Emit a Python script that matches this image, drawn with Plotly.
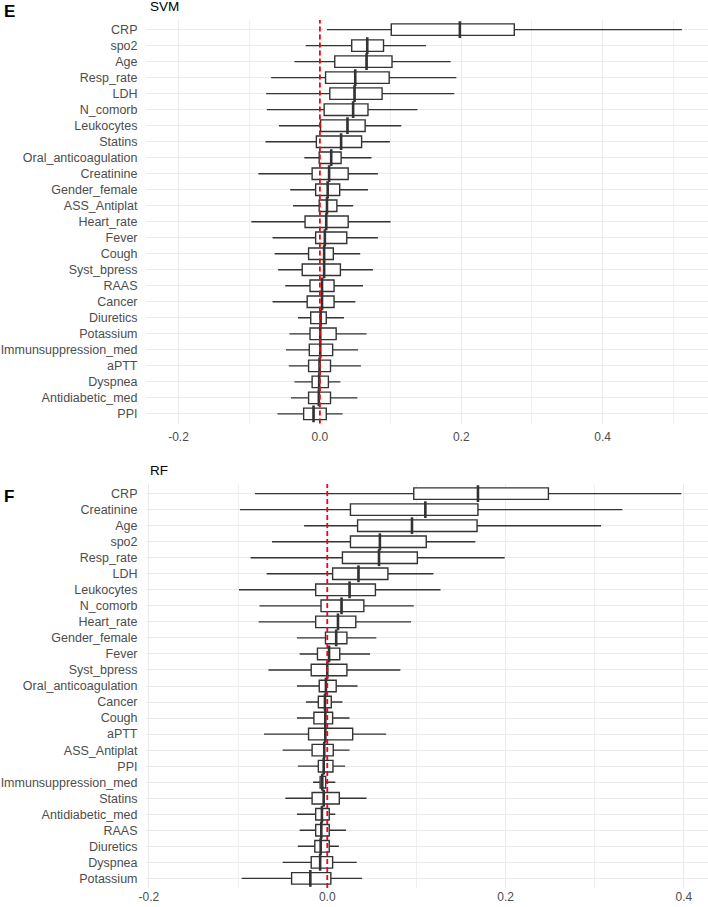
import plotly.graph_objects as go

# ---------------- SVM (panel E) ----------------
svm_features = ["CRP", "spo2", "Age", "Resp_rate", "LDH", "N_comorb", "Leukocytes", "Statins",
                "Oral_anticoagulation", "Creatinine", "Gender_female", "ASS_Antiplat", "Heart_rate",
                "Fever", "Cough", "Syst_bpress", "RAAS", "Cancer", "Diuretics", "Potassium",
                "Immunsuppression_med", "aPTT", "Dyspnea", "Antidiabetic_med", "PPI"]
svm_low = [0.010, -0.020, -0.036, -0.069, -0.076, -0.075, -0.058, -0.077, -0.022, -0.087, -0.042,
           -0.038, -0.097, -0.067, -0.064, -0.059, -0.049, -0.067, -0.031, -0.043, -0.048, -0.044,
           -0.036, -0.041, -0.060]
svm_q1 = [0.101, 0.045, 0.021, 0.008, 0.014, 0.006, 0.001, -0.005, -0.001, -0.011, -0.006, -0.001,
          -0.021, -0.006, -0.016, -0.025, -0.014, -0.018, -0.013, -0.014, -0.015, -0.016, -0.011,
          -0.016, -0.023]
svm_med = [0.198, 0.067, 0.066, 0.050, 0.049, 0.047, 0.039, 0.030, 0.016, 0.013, 0.011, 0.010,
           0.009, 0.007, 0.006, 0.006, 0.003, 0.003, 0.001, 0.0005, 0.0005, -0.0005, -0.001,
           -0.0015, -0.009]
svm_q3 = [0.275, 0.090, 0.102, 0.098, 0.088, 0.068, 0.064, 0.059, 0.030, 0.040, 0.028, 0.024,
          0.040, 0.038, 0.019, 0.029, 0.020, 0.020, 0.009, 0.023, 0.018, 0.015, 0.012, 0.015,
          0.009]
svm_high = [0.512, 0.150, 0.185, 0.193, 0.190, 0.138, 0.115, 0.099, 0.073, 0.082, 0.068, 0.047,
            0.100, 0.082, 0.057, 0.075, 0.061, 0.050, 0.034, 0.066, 0.054, 0.058, 0.029, 0.053,
            0.032]

# ---------------- RF (panel F) ----------------
rf_features = ["CRP", "Creatinine", "Age", "spo2", "Resp_rate", "LDH", "Leukocytes", "N_comorb",
               "Heart_rate", "Gender_female", "Fever", "Syst_bpress", "Oral_anticoagulation",
               "Cancer", "Cough", "aPTT", "ASS_Antiplat", "PPI", "Immunsuppression_med", "Statins",
               "Antidiabetic_med", "RAAS", "Diuretics", "Dyspnea", "Potassium"]
rf_low = [-0.081, -0.098, -0.026, -0.062, -0.086, -0.068, -0.099, -0.076, -0.077, -0.034, -0.031,
          -0.066, -0.034, -0.024, -0.034, -0.071, -0.050, -0.033, -0.016, -0.047, -0.034, -0.031,
          -0.033, -0.050, -0.096]
rf_q1 = [0.097, 0.026, 0.034, 0.026, 0.017, 0.006, -0.013, -0.007, -0.013, -0.002, -0.011, -0.018,
         -0.009, -0.010, -0.015, -0.021, -0.017, -0.010, -0.008, -0.017, -0.013, -0.013, -0.014,
         -0.018, -0.040]
rf_med = [0.169, 0.110, 0.095, 0.059, 0.058, 0.035, 0.025, 0.016, 0.012, 0.010, 0.002, 0.000,
          -0.0015, -0.0026, -0.0022, -0.0022, -0.0034, -0.004, -0.0056, -0.004, -0.006, -0.0067,
          -0.0074, -0.008, -0.019]
rf_q3 = [0.248, 0.169, 0.168, 0.111, 0.101, 0.068, 0.054, 0.041, 0.032, 0.022, 0.014, 0.022,
         0.010, 0.0045, 0.006, 0.0285, 0.0067, 0.0064, -0.0018, 0.0135, 0.0022, 0.0022, 0.0022,
         0.006, 0.004]
rf_high = [0.397, 0.331, 0.307, 0.166, 0.199, 0.119, 0.127, 0.097, 0.094, 0.055, 0.048, 0.082,
           0.034, 0.017, 0.025, 0.066, 0.025, 0.020, 0.009, 0.044, 0.009, 0.021, 0.013, 0.033,
           0.039]

x_ticks = [-0.2, 0.0, 0.2, 0.4]
x_ticklabels = ["-0.2", "0.0", "0.2", "0.4"]

FONT = "Liberation Sans, Arial, sans-serif"
LINE = "#333333"
fig = go.Figure()

panels = [
    (svm_features, svm_low, svm_q1, svm_med, svm_q3, svm_high, "x", "y"),
    (rf_features, rf_low, rf_q1, rf_med, rf_q3, rf_high, "x2", "y2"),
]
for feats, lo, q1, md, q3, hi, xa, ya in panels:
    fig.add_trace(go.Box(
        y=feats, q1=q1, median=md, q3=q3, lowerfence=lo, upperfence=hi,
        orientation="h", xaxis=xa, yaxis=ya, boxpoints=False,
        fillcolor="white", line=dict(color=LINE, width=1.4),
        whiskerwidth=0, width=0.72, showlegend=False, hoverinfo="skip"))
    fig.add_trace(go.Scatter(
        x=md, y=feats, mode="markers", xaxis=xa, yaxis=ya,
        marker=dict(symbol="line-ns", size=12, line=dict(color=LINE, width=2.6)),
        showlegend=False, hoverinfo="skip"))
    fig.add_shape(type="line", x0=0, x1=0, y0=0, y1=1, xref=xa, yref=ya + " domain",
                  line=dict(color="#FF0000", width=1.8, dash="5px,3px"), layer="above")

def xaxis_cfg(rng, anchor, domain, ticklen):
    return dict(range=rng, domain=domain, anchor=anchor, tickvals=x_ticks, ticktext=x_ticklabels,
                showgrid=True, gridcolor="#EBEBEB", gridwidth=1.1, zeroline=False,
                ticks="outside" if ticklen > 0 else "", ticklen=max(ticklen, 1),
                tickcolor="rgba(0,0,0,0)",
                tickfont=dict(family=FONT, size=12, color="#4D4D4D"),
                minor=dict(tickvals=[-0.1, 0.1, 0.3, 0.5], showgrid=True, gridcolor="#F0F0F0",
                           gridwidth=0.6),
                showline=False, automargin=False, fixedrange=True)

def yaxis_cfg(feats, anchor, domain):
    n = len(feats)
    return dict(type="category", categoryorder="array", categoryarray=feats,
                range=[n - 1 + 0.6, -0.6], domain=domain, anchor=anchor,
                showgrid=True, gridcolor="#EBEBEB", gridwidth=1.1, zeroline=False,
                ticks="outside", ticklen=5, tickcolor="rgba(0,0,0,0)",
                tickfont=dict(family=FONT, size=12.5, color="#4D4D4D"),
                showline=False, automargin=False, fixedrange=True)

H = 907.0
xdom = [146 / 708, 1.0]
fig.update_layout(
    width=708, height=907, margin=dict(l=0, r=0, t=0, b=0),
    paper_bgcolor="white", plot_bgcolor="white",
    xaxis=xaxis_cfg([-0.246, 0.549], "y", xdom, 2),
    yaxis=yaxis_cfg(svm_features, "x", [1 - 423.5 / H, 1 - 20 / H]),
    xaxis2=xaxis_cfg([-0.2033, 0.427], "y2", xdom, 0),
    yaxis2=yaxis_cfg(rf_features, "x2", [1 - 888.0 / H, 1 - 484 / H]),
    font=dict(family=FONT),
)

annots = [
    ("E", 2, 11.7, 17, True),
    ("SVM", 148, 6.5, 13.5, False),
    ("F", 2, 496.7, 17, True),
    ("RF", 147.5, 470.5, 13.5, False),
]
for txt, px, py, sz, bold in annots:
    fig.add_annotation(text=f"<b>{txt}</b>" if bold else txt, x=px / 708, y=1 - py / H,
                       xref="paper", yref="paper", xanchor="left", yanchor="middle",
                       showarrow=False, font=dict(family=FONT, size=sz, color="black"))

fig.write_html("out.html", config={"displayModeBar": False},
               post_script="document.body.style.margin='0';document.body.style.overflow='hidden';")
